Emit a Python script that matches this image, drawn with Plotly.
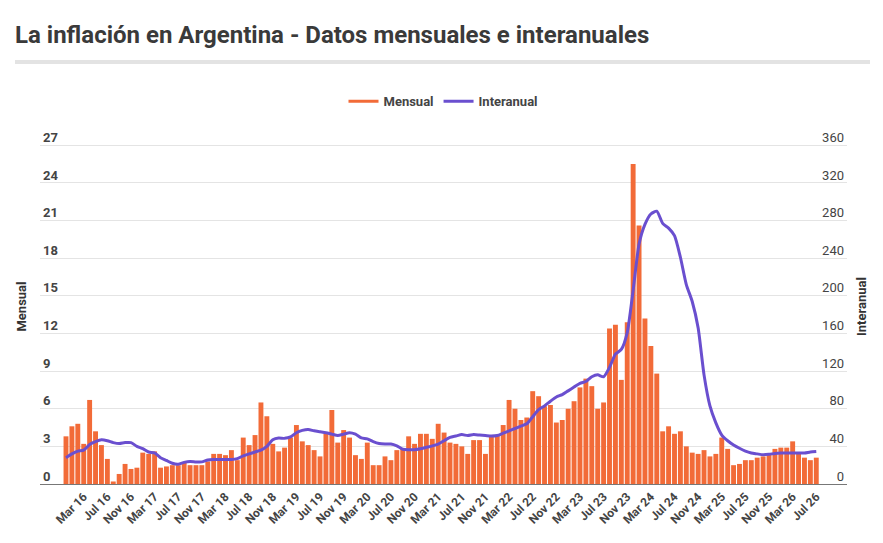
import plotly.graph_objects as go

# monthly series, Dec 2015 .. Jul 2026
month_names = ["Ene", "Feb", "Mar", "Abr", "May", "Jun", "Jul", "Ago", "Sep", "Oct", "Nov", "Dic"]
months = ["Dic 15"] + [f"{m} {y}" for y in range(16, 27) for m in month_names][:127]

mensual = [
  3.8, 4.6, 4.8, 3.2, 6.7, 4.2, 3.1, 2.0, 0.2, 0.8, 1.6, 1.2,
  1.3, 2.5, 2.4, 2.6, 1.3, 1.4, 1.5, 1.5, 1.7, 1.5, 1.5, 1.5,
  1.8, 2.4, 2.4, 2.3, 2.7, 1.9, 3.7, 3.1, 3.9, 6.5, 5.4, 3.2,
  2.6, 2.9, 3.7, 4.7, 3.4, 3.1, 2.7, 2.2, 4.0, 5.9, 3.3, 4.3,
  3.7, 2.3, 2.0, 3.3, 1.5, 1.5, 2.2, 1.9, 2.7, 2.8, 3.8, 3.2,
  4.0, 4.0, 3.6, 4.8, 4.1, 3.3, 3.2, 3.0, 2.4, 3.5, 3.5, 2.4,
  3.8, 3.9, 4.7, 6.7, 6.0, 5.1, 5.3, 7.4, 7.0, 6.2, 6.3, 4.9,
  5.1, 6.0, 6.6, 7.7, 8.4, 7.8, 6.0, 6.5, 12.4, 12.7, 8.3, 12.9,
  25.5, 20.6, 13.2, 11.0, 8.8, 4.2, 4.6, 4.0, 4.2, 3.0, 2.5, 2.4,
  2.7, 2.2, 2.4, 3.7, 2.8, 1.5, 1.6, 1.9, 1.9, 2.1, 2.2, 2.4,
  2.8, 2.9, 2.9, 3.4, 2.4, 2.1, 1.9, 2.1,
]

interanual = [
  28, 32, 35, 36, 42, 45, 47, 46, 44, 43, 44, 44,
  40, 37.5, 34, 33, 28, 25, 22, 21, 23, 24, 23.5, 23.5,
  25.5, 26, 26, 26, 26, 27, 30, 32, 34, 36, 40, 47,
  49, 48.5, 50, 54.5, 57, 58, 56.5, 55.5, 54.5, 53, 51.5, 53,
  54.5, 53, 49, 48, 45, 43, 42.5, 42.5, 40.5, 37, 36.5, 36.5,
  37.5, 39, 40.5, 42.5, 46, 49.5, 51, 52.5, 51.5, 52.5, 52, 51.5,
  51, 51.5, 54, 56.5, 59, 61.5, 64, 71.5, 79, 83, 88, 92.5,
  95, 99, 103, 107, 109, 114, 116, 114, 124, 138, 143, 161,
  206, 255, 276, 287, 290, 277, 272, 264, 241, 212, 194, 166,
  116, 83, 65, 52, 46, 41.5, 38, 35, 33, 32, 31, 31.5,
  32.5, 33, 33, 33, 33, 33, 34, 34.5,
]

tick_months = months[3::4]
left_ticks = list(range(0, 28, 3))
right_ticks = list(range(0, 361, 40))

ORANGE = "#f26b38"
PURPLE = "#6a4fcf"
TXT = "#444444"

# a little headroom above 27 / 360 so the top tick labels (drawn above
# their gridline) stay inside the plot area
Y_TOP = 28.3
Y2_TOP = 360 * Y_TOP / 27
PLOT_H = 339 * Y_TOP / 27
TOP = 484 - PLOT_H

fig = go.Figure()

fig.add_trace(go.Bar(
  name="Mensual", x=months, y=mensual,
  marker=dict(color=ORANGE, line=dict(width=0)),
  showlegend=False, legendgroup="m",
))
# legend entry drawn as a line, like the original
fig.add_trace(go.Scatter(
  name="Mensual", x=[None], y=[None], mode="lines",
  line=dict(color=ORANGE, width=3), legendgroup="m",
))
fig.add_trace(go.Scatter(
  name="Interanual", x=months, y=interanual, yaxis="y2",
  mode="lines", line=dict(color=PURPLE, width=3, shape="spline", smoothing=0.6),
))

fig.update_layout(
  template="plotly_white",
  width=883, height=543,
  margin=dict(l=40, r=36, t=TOP, b=59, autoexpand=False),
  font=dict(family="Roboto", color=TXT, size=13),
  bargap=0.17,
  plot_bgcolor="white", paper_bgcolor="white",
  title=dict(
    text="La inflación en Argentina - Datos mensuales e interanuales",
    font=dict(size=24, color="#3a3a3a", weight="bold"),
    x=15 / 883, xanchor="left", xref="container",
    y=1 - 35 / 543, yanchor="middle", yref="container",
  ),
  legend=dict(
    orientation="h", x=0.5, xanchor="center", y=(484 - 101) / PLOT_H, yanchor="middle",
    font=dict(size=13, color=TXT, weight="bold"), itemwidth=30,
  ),
  xaxis=dict(
    type="category", range=[-4.4, 132.2],
    tickmode="array", tickvals=tick_months, ticktext=tick_months,
    tickangle=-45, tickfont=dict(size=12, color=TXT, weight="bold"),
    showgrid=False, showline=True, linecolor="#777777", linewidth=1,
    ticks="", automargin=False,
  ),
  yaxis=dict(
    range=[0, Y_TOP], tickmode="array", tickvals=left_ticks,
    showgrid=True, gridcolor="#e4e4e4",
    zeroline=False, ticklabelposition="inside", ticklabelshift=-8,
    tickfont=dict(size=13, color=TXT, weight="bold"),
    title=dict(text="Mensual", font=dict(size=13, color="#333333", weight="bold"), standoff=13),
    automargin=False,
  ),
  yaxis2=dict(
    range=[0, Y2_TOP], tickmode="array", tickvals=right_ticks, overlaying="y", side="right",
    showgrid=False, zeroline=False, ticklabelposition="inside", ticklabelshift=-8,
    tickfont=dict(size=13, color=TXT),
    title=dict(text="Interanual", font=dict(size=13, color="#333333", weight="bold"), standoff=13),
    automargin=False,
  ),
  shapes=[dict(
    type="line", xref="paper", yref="paper",
    x0=(15 - 40) / 807, x1=(870 - 40) / 807,
    y0=(484 - 61.5) / PLOT_H, y1=(484 - 61.5) / PLOT_H,
    line=dict(color="#e3e3e3", width=4),
  )],
)

# drop the browser's default page margin so the figure sits at (0, 0)
fig.write_html(
  "out.html",
  config={"displayModeBar": False},
  post_script="document.body.style.margin='0';",
)
